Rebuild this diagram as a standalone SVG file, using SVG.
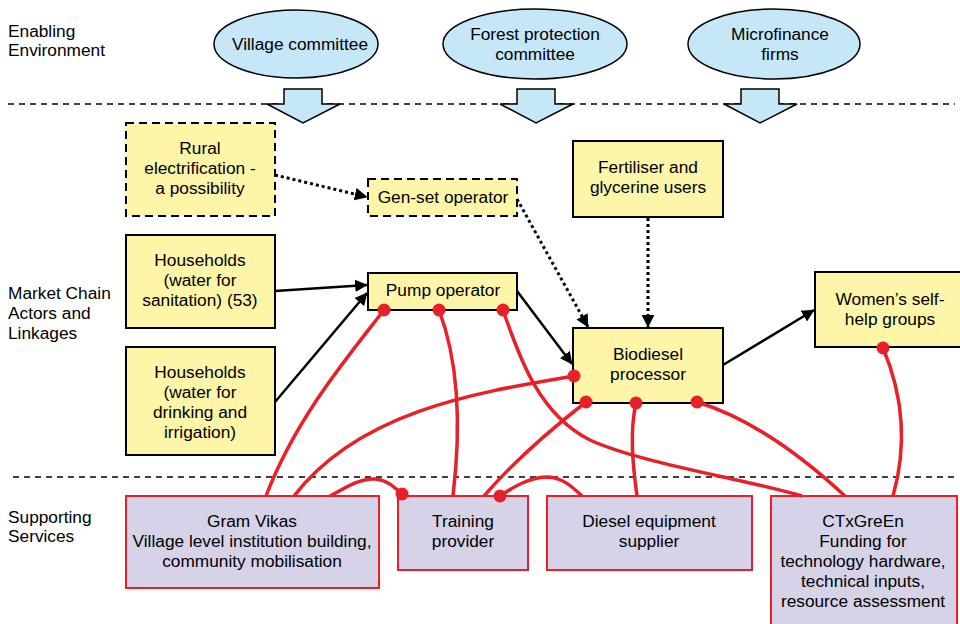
<svg xmlns="http://www.w3.org/2000/svg" width="960" height="624" viewBox="0 0 960 624">
<defs>
<style>
text{font-family:"Liberation Sans",Arial,sans-serif;font-size:17.3px;fill:#000}
.c{text-anchor:middle}
.ell{fill:#c6e7f7;stroke:#000;stroke-width:1.5}
.barrow{fill:#c6e7f7;stroke:#000;stroke-width:1.5;stroke-linejoin:miter}
.sep{stroke:#000;stroke-width:1.3;stroke-dasharray:6 5;fill:none}
.ybox{fill:#fdf5a8;stroke:#000;stroke-width:2}
.ydash{fill:#fdf5a8;stroke:#000;stroke-width:2;stroke-dasharray:8 5}
.pbox{fill:#d6d2e8;stroke:#e8202a;stroke-width:2}
.blk{stroke:#000;stroke-width:2.5;fill:none}
.dot{stroke:#000;stroke-width:3;fill:none;stroke-dasharray:3 3}
.red{stroke:#e8202a;stroke-width:3.5;fill:none}
.rd{fill:#e8202a}
</style>
<marker id="ah" viewBox="0 0 10 10" refX="9.5" refY="5" markerWidth="5" markerHeight="5" markerUnits="strokeWidth" orient="auto"><path d="M0,0 L10,5 L0,10 z" fill="#000"/></marker>
<marker id="ahd" viewBox="0 0 10 10" refX="9.5" refY="5" markerWidth="4.3" markerHeight="4.3" markerUnits="strokeWidth" orient="auto"><path d="M0,0 L10,5 L0,10 z" fill="#000"/></marker>
</defs>

<g id="section-labels">
<text x="8" y="37">Enabling</text>
<text x="8" y="56">Environment</text>
<text x="8" y="299">Market Chain</text>
<text x="8" y="319">Actors and</text>
<text x="8" y="339">Linkages</text>
<text x="8" y="523">Supporting</text>
<text x="8" y="542">Services</text>
<line class="sep" x1="8" y1="104" x2="955" y2="104"/>
<line class="sep" x1="13" y1="477" x2="955" y2="477"/>
</g>

<g id="village-committee">
<ellipse class="ell" cx="296" cy="44" rx="82" ry="34"/>
<text class="c" x="300" y="50">Village committee</text>
<path class="barrow" d="M284,89 H322 V104 H340 L303,123 L267,104 H284 Z"/>
</g>
<g id="forest-protection-committee">
<ellipse class="ell" cx="535" cy="44" rx="92" ry="35"/>
<text class="c" x="535" y="40">Forest protection</text>
<text class="c" x="535" y="60">committee</text>
<path class="barrow" d="M517,89 H555 V104 H573 L536,123 L500,104 H517 Z"/>
</g>
<g id="microfinance-firms">
<ellipse class="ell" cx="774" cy="44" rx="86" ry="35"/>
<text class="c" x="780" y="40">Microfinance</text>
<text class="c" x="780" y="60">firms</text>
<path class="barrow" d="M741,89 H779 V104 H797 L760,123 L724,104 H741 Z"/>
</g>

<g id="rural-electrification">
<rect class="ydash" x="126" y="123" width="149" height="93"/>
<text class="c" x="200" y="154">Rural</text>
<text class="c" x="200" y="174">electrification -</text>
<text class="c" x="200" y="194">a possibility</text>
</g>
<g id="gen-set-operator">
<rect class="ydash" x="368" y="179" width="149" height="37"/>
<text class="c" x="443" y="203">Gen-set operator</text>
</g>
<g id="households-sanitation">
<rect class="ybox" x="126" y="235" width="149" height="93"/>
<text class="c" x="200" y="266">Households</text>
<text class="c" x="200" y="286">(water for</text>
<text class="c" x="200" y="306">sanitation) (53)</text>
</g>
<g id="households-drinking">
<rect class="ybox" x="126" y="347" width="149" height="108"/>
<text class="c" x="200" y="378">Households</text>
<text class="c" x="200" y="398">(water for</text>
<text class="c" x="200" y="418">drinking and</text>
<text class="c" x="200" y="438">irrigation)</text>
</g>
<g id="pump-operator">
<rect class="ybox" x="368" y="273" width="149" height="37"/>
<text class="c" x="443" y="296">Pump operator</text>
</g>
<g id="fertiliser-users">
<rect class="ybox" x="573" y="141" width="150" height="76"/>
<text class="c" x="648" y="173">Fertiliser and</text>
<text class="c" x="648" y="193">glycerine users</text>
</g>
<g id="biodiesel-processor">
<rect class="ybox" x="573" y="328" width="150" height="75"/>
<text class="c" x="648" y="360">Biodiesel</text>
<text class="c" x="648" y="380">processor</text>
</g>
<g id="womens-self-help-groups">
<rect class="ybox" x="815" y="272" width="150" height="75"/>
<text class="c" x="890" y="305">Women’s self-</text>
<text class="c" x="890" y="325">help groups</text>
</g>

<g id="gram-vikas">
<rect class="pbox" x="126" y="496" width="253" height="92"/>
<text class="c" x="252" y="527">Gram Vikas</text>
<text class="c" x="252" y="547">Village level institution building,</text>
<text class="c" x="252" y="567">community mobilisation</text>
</g>
<g id="training-provider">
<rect class="pbox" x="398" y="496" width="130" height="74"/>
<text class="c" x="463" y="527">Training</text>
<text class="c" x="463" y="547">provider</text>
</g>
<g id="diesel-equipment-supplier">
<rect class="pbox" x="547" y="496" width="205" height="74"/>
<text class="c" x="649" y="527">Diesel equipment</text>
<text class="c" x="649" y="547">supplier</text>
</g>
<g id="ctxgreen">
<rect class="pbox" x="771" y="496" width="186" height="132"/>
<text class="c" x="863" y="527">CTxGreEn</text>
<text class="c" x="863" y="547">Funding for</text>
<text class="c" x="863" y="567">technology hardware,</text>
<text class="c" x="863" y="587">technical inputs,</text>
<text class="c" x="863" y="607">resource assessment</text>
</g>

<g id="connectors">
<line class="dot" x1="275" y1="175" x2="367" y2="197" marker-end="url(#ahd)"/>
<line class="dot" x1="517" y1="199" x2="588" y2="327" marker-end="url(#ahd)"/>
<line class="dot" x1="648" y1="218" x2="648" y2="327" marker-end="url(#ahd)"/>
<line class="blk" x1="275" y1="291" x2="367" y2="285" marker-end="url(#ah)"/>
<line class="blk" x1="275" y1="402" x2="367" y2="293" marker-end="url(#ah)"/>
<line class="blk" x1="517" y1="291" x2="572" y2="364" marker-end="url(#ah)"/>
<line class="blk" x1="723" y1="365" x2="814" y2="310" marker-end="url(#ah)"/>

<path class="red" d="M384,310 C345,360 295,420 266,496"/>
<path class="red" d="M439,310 C458,360 462,420 453,496"/>
<path class="red" d="M503,310 C520,360 540,415 590,440 C640,463 740,478 802,496"/>
<path class="red" d="M574,376 C480,392 360,410 294,496"/>
<path class="red" d="M586,402 C550,430 515,460 484,496"/>
<path class="red" d="M636,403 C630,430 632,460 637,496"/>
<path class="red" d="M697,402 C740,415 790,445 845,496"/>
<path class="red" d="M883,348 C905,400 906,450 893,496"/>
<path class="red" d="M330,496 C345,488 360,478 375,479 C388,480 395,488 402,494"/>
<path class="red" d="M500,496 C515,486 530,477 548,477 C565,478 575,490 582,496"/>
<circle class="rd" cx="384" cy="310" r="6.5"/>
<circle class="rd" cx="439" cy="310" r="6.5"/>
<circle class="rd" cx="503" cy="310" r="6.5"/>
<circle class="rd" cx="574" cy="376" r="6.5"/>
<circle class="rd" cx="586" cy="402" r="6.5"/>
<circle class="rd" cx="636" cy="403" r="6.5"/>
<circle class="rd" cx="697" cy="402" r="6.5"/>
<circle class="rd" cx="883" cy="348" r="6.5"/>
<circle class="rd" cx="402" cy="494" r="6.5"/>
<circle class="rd" cx="500" cy="496" r="6.5"/>
</g>
</svg>
